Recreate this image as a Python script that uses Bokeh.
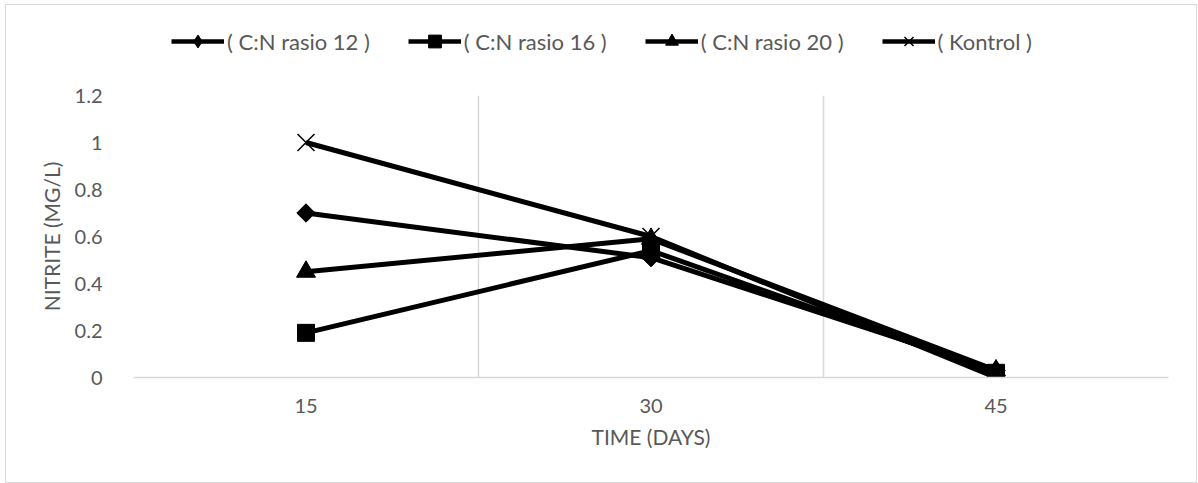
import numpy as np
from bokeh.plotting import figure
from bokeh.layouts import column
from bokeh.models import Range1d, FixedTicker, Legend, LegendItem
from bokeh.embed import file_html
from bokeh.resources import INLINE

# ---- data ----
days = [15, 30, 45]
cn12 = [0.70, 0.51, 0.03]
cn16 = [0.19, 0.54, 0.02]
cn20 = [0.45, 0.59, 0.03]
kontrol = [1.00, 0.60, 0.00]
series_names = ["( C:N rasio 12 )", "( C:N rasio 16 )", "( C:N rasio 20 )", "( Kontrol )"]
y_ticks = [0, 0.2, 0.4, 0.6, 0.8, 1.0, 1.2]
y_tick_labels = ["0", "0.2", "0.4", "0.6", "0.8", "1", "1.2"]

FONT = "Lato"
GREY = "#595959"
GRID = "#d9d9d9"
W = 1190

# ---- legend strip (top); its ranges keep the series out of view ----
lg = figure(width=W, height=78, output_backend="svg", toolbar_location=None,
            x_range=Range1d(-100, -99), y_range=Range1d(-100, -99),
            x_axis_type=None, y_axis_type=None,
            min_border_left=0, min_border_right=0, min_border_top=0, min_border_bottom=0)
lg.outline_line_color = None
lg.xgrid.visible = False
lg.ygrid.visible = False
lg.border_fill_color = "white"
lg.background_fill_color = "white"

# ---- main plot ----
p = figure(width=W, height=399, output_backend="svg", toolbar_location=None,
           x_range=Range1d(7.5, 52.5), y_range=Range1d(0, 1.2),
           min_border_left=127, min_border_right=28, min_border_top=12, min_border_bottom=105)
p.outline_line_color = None
p.background_fill_color = "white"
p.border_fill_color = "white"

p.xaxis.ticker = FixedTicker(ticks=days)
p.xaxis.major_label_overrides = {d: str(d) for d in days}
p.yaxis.ticker = FixedTicker(ticks=y_ticks)
p.yaxis.major_label_overrides = {t: l for t, l in zip(y_ticks, y_tick_labels)}
for ax in (p.xaxis, p.yaxis):
    ax.major_tick_line_color = None
    ax.minor_tick_line_color = None
    ax.major_label_text_font = FONT
    ax.major_label_text_font_size = "20px"
    ax.major_label_text_color = GREY
    ax.axis_label_text_font = FONT
    ax.axis_label_text_font_size = "21px"
    ax.axis_label_text_color = GREY
    ax.axis_label_text_font_style = "normal"
p.xaxis.axis_line_color = GRID
p.xaxis.axis_line_width = 1.5
p.yaxis.axis_line_color = None
p.xaxis.axis_label = "TIME (DAYS)"
p.yaxis.axis_label = "NITRITE (MG/L)"
p.xaxis.major_label_standoff = 15
p.xaxis.axis_label_standoff = 8
p.yaxis.major_label_standoff = 25
p.yaxis.axis_label_standoff = 8

p.ygrid.visible = False
p.xgrid.ticker = FixedTicker(ticks=[7.5, 22.5, 37.5, 52.5])
p.xgrid.grid_line_color = GRID
p.xgrid.grid_line_width = 1.5

specs = [
    (cn12, dict(marker="square", size=13, angle=np.pi / 4), dict(marker="diamond")),
    (cn16, dict(marker="square", size=17), dict(marker="square")),
    (cn20, dict(marker="triangle", size=19), dict(marker="triangle")),
    (kontrol, dict(marker="x", size=24, line_width=1.5), dict(marker="x", line_width=1.5)),
]
items = []
for (vals, mk, lmk), name in zip(specs, series_names):
    p.line(days, vals, line_color="black", line_width=5)
    p.scatter(days, vals, fill_color="black", line_color="black", **mk)
    # legend keys: same series in the legend strip (outside its visible range)
    ll = lg.line(days, vals, line_color="black", line_width=4.5)
    ls = lg.scatter(days, vals, fill_color="black", line_color="black", size=12, **lmk)
    items.append(LegendItem(label=name, renderers=[ll, ls]))

legend = Legend(items=items, orientation="horizontal", location=(38, 26),
                glyph_width=53, glyph_height=32, label_standoff=3, spacing=38,
                padding=11, margin=0, border_line_color=None, background_fill_alpha=0,
                label_text_font=FONT, label_text_font_size="22px", label_text_color=GREY)
lg.add_layout(legend, "center")

layout = column(lg, p, spacing=0)
layout.styles = {"border": "1px solid #d9d9d9", "margin": "4px 0 0 5px"}

open("out.html", "w").write(file_html(layout, INLINE))
